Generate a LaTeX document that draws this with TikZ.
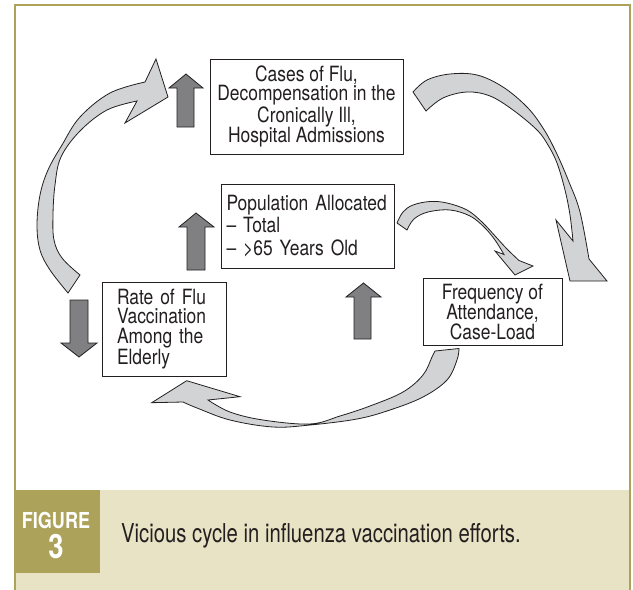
\documentclass[tikz,border=0pt]{standalone}
\usepackage{fontspec}
\setmainfont{TeX Gyre Heros}[FakeStretch=0.83]
\newfontfamily\capfont{TeX Gyre Heros}[FakeStretch=0.78]
\newfontfamily\figfont{TeX Gyre Heros}[FakeStretch=0.82]
\definecolor{figolive}{RGB}{172,162,90}
\definecolor{bandcol}{RGB}{232,227,196}
\definecolor{arrlight}{RGB}{209,211,212}
\definecolor{arrdark}{RGB}{128,128,130}
\definecolor{inkcol}{RGB}{35,31,32}
\tikzset{
  boxnode/.style={draw=inkcol, line width=1pt, fill=white, text=inkcol, inner sep=0pt},
  boxfont/.style={font=\fontsize{21}{#1}\selectfont},
  lightarr/.style={fill=arrlight, draw=inkcol, line width=0.8pt, line join=miter},
  darkarr/.style={fill=arrdark, draw=inkcol, line width=0.8pt, line join=miter},
}
\begin{document}
\begin{tikzpicture}[x=1pt,y=-1pt]
\useasboundingbox (0,0) rectangle (633,590);
% caption band and frame
\fill[bandcol] (15,490) rectangle (630,592);
\fill[figolive] (13.75,490) rectangle (100,573);
\draw[figolive, line width=2.5pt] (15,592) -- (15,5) -- (630,5) -- (630,592);

% boxes
\node[boxnode, boxfont=19.6, minimum width=193pt, minimum height=95pt, align=center] (cases) at (306.5,106.5)
  {Cases of Flu,\\Decompensation in the\\Cronically Ill,\\Hospital Admissions};
\node[boxnode, boxfont=22.5, minimum width=173pt, minimum height=84pt, text width=162pt, inner xsep=5.5pt, align=left] (pop) at (307.5,226)
  {Population Allocated\\– Total\\– >65 Years Old};
\node[boxnode, boxfont=19.8, minimum width=124pt, minimum height=94pt, text width=94pt, inner xsep=15pt, align=left] (rate) at (164,329)
  {Rate of Flu\\Vaccination\\Among the\\Elderly};
\node[boxnode, boxfont=20, minimum width=139pt, minimum height=67pt, align=center] (freq) at (492.5,311.5)
  {Frequency of\\Attendance,\\Case-Load};

% dark block arrows
\filldraw[darkarr] (177,127) -- (177,88) -- (169,88) -- (186,74) -- (203,88) -- (194,88) -- (194,127) -- cycle;
\filldraw[darkarr] (187,270) -- (187,227) -- (179,227) -- (196,213) -- (214,227) -- (205,227) -- (205,270) -- cycle;
\filldraw[darkarr] (354,339) -- (354,297) -- (346,297) -- (363.5,283) -- (381,297) -- (371,297) -- (371,339) -- cycle;
\filldraw[darkarr] (70,300) -- (70,343) -- (61,343) -- (79,357) -- (97,343) -- (88,343) -- (88,300) -- cycle;

% curved arrow A (left, upwards)
\filldraw[lightarr] plot[smooth, tension=0.6] coordinates {(145,82) (110,93) (80,117) (62,145) (48,170) (40,195) (37,225) (40,250) (50,270) (68,293)}
  -- plot[smooth, tension=0.6] coordinates {(80,275) (62,258) (54,240) (53,215) (55,185) (61,157) (80,131) (107,110) (137,101)}
  -- (125,123) -- (168,97) -- (156,59) -- cycle;

% curved arrow B (top right, downwards)
\filldraw[lightarr] plot[smooth, tension=0.6] coordinates {(413,92) (427,80) (450,74) (477,75) (503,87) (527,107) (543,128) (556,152) (569,182) (580,212) (589,259)}
  -- (607,281) -- (570,281) -- (556,220)
  -- plot[smooth, tension=0.6] coordinates {(573,241) (570,215) (565,190) (557,163) (548,145) (537,130) (513,110) (490,96) (467,92) (443,98) (426,111)}
  -- cycle;

% curved arrow C (small, population to frequency)
\filldraw[lightarr] plot[smooth, tension=0.6] coordinates {(397,223) (403,212) (413,205) (430,201.5) (447,203) (467,210) (482,222) (496,237) (507,249) (519,260.5)}
  -- (533,266) -- (515,275) -- (495,251)
  -- plot[smooth, tension=0.6] coordinates {(504,254.5) (495,240) (484,227) (470,216) (450,210) (428,212) (414,219) (407,230)}
  -- cycle;

% curved arrow D (bottom, leftwards)
\filldraw[lightarr] plot[smooth, tension=0.6] coordinates {(459,348.5) (457,360) (447,380) (423,397) (390,410) (357,419) (310,425) (273,427) (230,420) (197,408) (183,402)}
  -- (151.7,402.7) -- (186.7,380.7) -- (240,396.7)
  -- plot[smooth, tension=0.6] coordinates {(208,400) (230,412) (263,420) (310,424) (340,416) (370,406) (403,392) (423,375) (432,357) (435,351)}
  -- cycle;

% caption
\node[anchor=base, inner sep=0pt, text=white, font=\figfont\bfseries\fontsize{22}{22}\selectfont] (figword) at (56,528) {FIGURE};
\node[anchor=base, inner sep=0pt, text=white, font=\figfont\bfseries\fontsize{33.5}{33.5}\selectfont] (fignum) at (56,558) {3};
\node[anchor=base west, inner sep=0pt, text=inkcol, font=\capfont\fontsize{26}{26}\selectfont] (caption) at (121,542) {Vicious cycle in influenza vaccination efforts.};
\end{tikzpicture}
\end{document}
